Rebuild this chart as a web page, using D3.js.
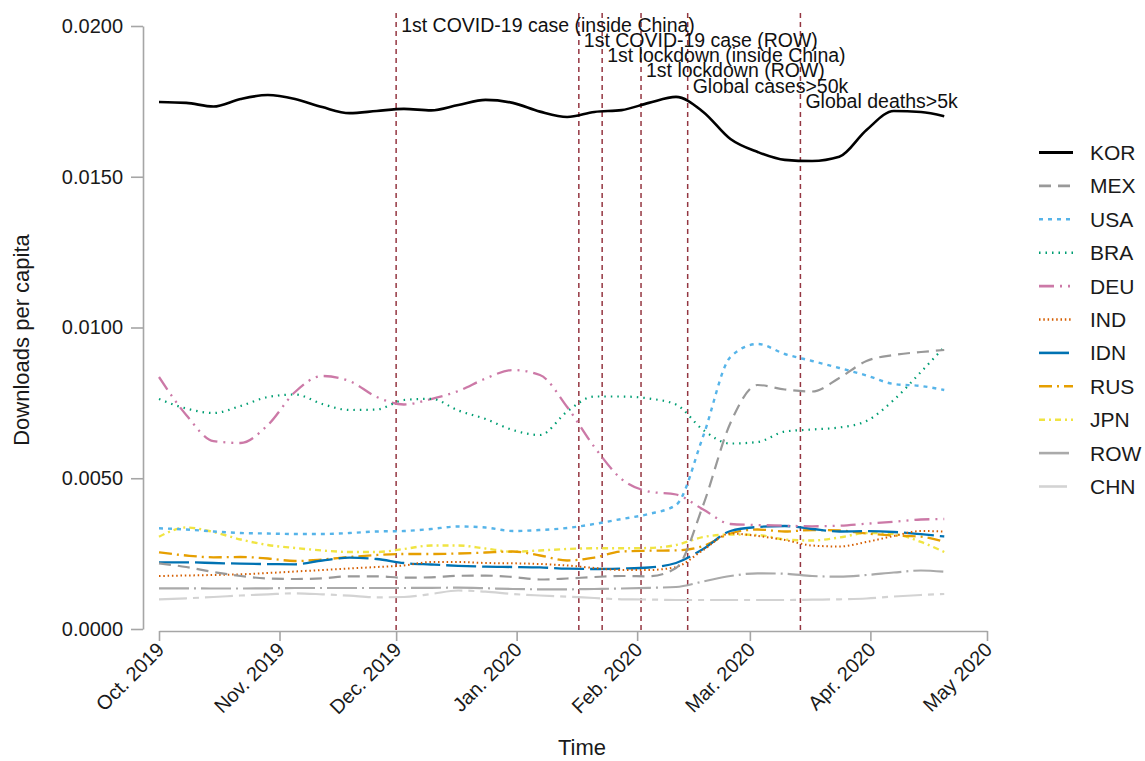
<!DOCTYPE html>
<html>
<head>
<meta charset="utf-8">
<script src="https://cdn.jsdelivr.net/npm/d3@7"></script>
<style>
  html, body { margin: 0; padding: 0; background: #fff; }
  text { font-family: "Liberation Sans", Arial, sans-serif; }
</style>
</head>
<body>
<svg id="chart" width="1145" height="761"></svg>
<script>
const dates = ["2019-10-01","2019-10-08","2019-10-15","2019-10-22","2019-10-29","2019-11-05","2019-11-12","2019-11-19","2019-11-26","2019-12-03","2019-12-10","2019-12-17","2019-12-24","2019-12-31","2020-01-07","2020-01-14","2020-01-21","2020-01-28","2020-02-04","2020-02-11","2020-02-18","2020-02-25","2020-03-03","2020-03-10","2020-03-17","2020-03-24","2020-03-31","2020-04-07","2020-04-14","2020-04-20"];

const countries = ["KOR","MEX","USA","BRA","DEU","IND","IDN","RUS","JPN","ROW","CHN"];

const KOR = [0.01748,0.01745,0.01733,0.01758,0.01771,0.01758,0.01731,0.01711,0.01718,0.01725,0.01720,0.01738,0.01755,0.01745,0.01716,0.01698,0.01715,0.01721,0.01745,0.01765,0.01715,0.01625,0.01582,0.01556,0.01552,0.01566,0.01655,0.01718,0.01715,0.01701];
const MEX = [0.002179,0.002056,0.001891,0.001758,0.001675,0.001658,0.001682,0.001748,0.001748,0.001701,0.001715,0.001764,0.001771,0.001725,0.001642,0.001675,0.001725,0.001758,0.001748,0.002023,0.004113,0.006832,0.008093,0.007943,0.007877,0.008325,0.008889,0.009088,0.009187,0.009253];
const USA = [0.003340,0.003300,0.003234,0.003184,0.003167,0.003151,0.003151,0.003184,0.003234,0.003250,0.003317,0.003400,0.003366,0.003250,0.003284,0.003350,0.003483,0.003648,0.003814,0.004113,0.006401,0.009021,0.009453,0.009121,0.008889,0.008657,0.008408,0.008126,0.008060,0.007927];
const BRA = [0.007628,0.007313,0.007164,0.007396,0.007695,0.007778,0.007463,0.007264,0.007280,0.007595,0.007635,0.007247,0.006965,0.006600,0.006434,0.007214,0.007711,0.007711,0.007645,0.007446,0.006600,0.006152,0.006202,0.006550,0.006617,0.006683,0.006899,0.007595,0.008524,0.009353];
const DEU = [0.008358,0.007098,0.006235,0.006169,0.006766,0.007861,0.008391,0.008225,0.007695,0.007446,0.007628,0.007894,0.008308,0.008590,0.008424,0.007363,0.006036,0.004975,0.004560,0.004461,0.003963,0.003483,0.003449,0.003426,0.003406,0.003426,0.003492,0.003559,0.003632,0.003648];
const IND = [0.001758,0.001774,0.001791,0.001814,0.001857,0.001907,0.001957,0.002007,0.002056,0.002106,0.002222,0.002222,0.002189,0.002179,0.002156,0.002106,0.002023,0.001957,0.001957,0.002056,0.002620,0.003167,0.003085,0.002952,0.002769,0.002736,0.002886,0.003085,0.003250,0.003234];
const IDN = [0.002212,0.002212,0.002189,0.002166,0.002153,0.002146,0.002272,0.002365,0.002322,0.002189,0.002139,0.002096,0.002066,0.002056,0.002043,0.002000,0.001990,0.002007,0.002040,0.002189,0.002653,0.003250,0.003383,0.003416,0.003317,0.003234,0.003244,0.003217,0.003144,0.003068];
const RUS = [0.002544,0.002438,0.002378,0.002388,0.002338,0.002255,0.002305,0.002388,0.002454,0.002488,0.002488,0.002504,0.002537,0.002570,0.002438,0.002272,0.002371,0.002570,0.002597,0.002607,0.002753,0.003167,0.003300,0.003234,0.003284,0.003267,0.003167,0.003101,0.003061,0.002895];
const JPN = [0.003061,0.003366,0.003217,0.002968,0.002786,0.002687,0.002604,0.002554,0.002554,0.002653,0.002769,0.002769,0.002670,0.002564,0.002604,0.002653,0.002677,0.002677,0.002687,0.002786,0.003051,0.003134,0.003118,0.002968,0.002935,0.003035,0.003184,0.003151,0.002886,0.002554];
const ROW = [0.001350,0.001350,0.001343,0.001343,0.001350,0.001360,0.001360,0.001360,0.001360,0.001360,0.001366,0.001370,0.001353,0.001327,0.001317,0.001317,0.001327,0.001343,0.001366,0.001393,0.001575,0.001758,0.001847,0.001834,0.001758,0.001735,0.001791,0.001874,0.001940,0.001900];
const CHN = [0.000985,0.001018,0.001061,0.001111,0.001151,0.001184,0.001151,0.001104,0.001051,0.001061,0.001161,0.001277,0.001237,0.001161,0.001111,0.001071,0.001028,0.000985,0.000978,0.000962,0.000962,0.000962,0.000962,0.000962,0.000972,0.000985,0.001012,0.001078,0.001128,0.001161];

const yTicks = [0, 0.005, 0.010, 0.015, 0.020];
const xTickDates = ["2019-10-01","2019-11-01","2019-12-01","2020-01-01","2020-02-01","2020-03-01","2020-04-01","2020-05-01"];
const xTickLabels = ["Oct. 2019","Nov. 2019","Dec. 2019","Jan. 2020","Feb. 2020","Mar. 2020","Apr. 2020","May 2020"];

const eventDates = ["2019-12-01","2020-01-17","2020-01-23","2020-02-02","2020-02-14","2020-03-14"];
const eventLabels = ["1st COVID-19 case (inside China)","1st COVID-19 case (ROW)","1st lockdown (inside China)","1st lockdown (ROW)","Global cases>50k","Global deaths>5k"];

const seriesValues = {KOR, MEX, USA, BRA, DEU, IND, IDN, RUS, JPN, ROW, CHN};

const styles = {
  KOR: {color: "#000000", dash: null, w: 2.6},
  MEX: {color: "#999999", dash: "12,7", w: 2.2},
  USA: {color: "#56B4E9", dash: "4,5", w: 2.4},
  BRA: {color: "#009E73", dash: "1.5,5", w: 2.2},
  DEU: {color: "#CC79A7", dash: "15,6,2,6,2,6", w: 2.3},
  IND: {color: "#D55E00", dash: "1.5,2.8", w: 2.0},
  IDN: {color: "#0072B2", dash: "30,6", w: 2.3},
  RUS: {color: "#E69F00", dash: "13,5,2,5", w: 2.3},
  JPN: {color: "#F0E442", dash: "6,4,2,4", w: 2.4},
  ROW: {color: "#AAAAAA", dash: "30,5,2,5", w: 2.2},
  CHN: {color: "#D3D3D3", dash: "28,6,6,6", w: 2.2}
};

const parse = d3.utcParse("%Y-%m-%d");
const svg = d3.select("#chart");

const x = d3.scaleUtc()
  .domain([parse("2019-10-01"), parse("2020-05-01")])
  .range([159, 987]);
const y = d3.scaleLinear().domain([0, 0.02]).range([629, 26]);

const axisColor = "#A6A6A6";

// event lines
const evG = svg.append("g");
eventDates.forEach((d, i) => {
  const xp = x(parse(d));
  evG.append("line")
    .attr("x1", xp).attr("x2", xp)
    .attr("y1", 13).attr("y2", 630)
    .attr("stroke", "#943641").attr("stroke-width", 1.5)
    .attr("stroke-dasharray", "5,4");
});

// series lines
const line = d3.line()
  .x((d, i) => x(parse(dates[i])))
  .y(d => y(d))
  .curve(d3.curveMonotoneX);

const drawOrder = ["CHN","ROW","JPN","RUS","IDN","IND","DEU","BRA","USA","MEX","KOR"];
const linesG = svg.append("g");
drawOrder.forEach(c => {
  const s = styles[c];
  linesG.append("path")
    .datum(seriesValues[c])
    .attr("d", line)
    .attr("fill", "none")
    .attr("stroke", s.color)
    .attr("stroke-width", s.w)
    .attr("stroke-dasharray", s.dash)
    .attr("stroke-linejoin", "round");
});

// event labels
eventDates.forEach((d, i) => {
  const xp = x(parse(d));
  svg.append("text")
    .attr("x", xp + 5)
    .attr("y", 25 + i * 15.2)
    .attr("dy", "0.35em")
    .attr("font-size", 19.5)
    .attr("fill", "#111")
    .text(eventLabels[i]);
});

// y axis
const yAxis = d3.axisLeft(y)
  .tickValues(yTicks)
  .tickFormat(d3.format(".4f"))
  .tickSize(12)
  .tickSizeOuter(0)
  .tickPadding(8);
const yg = svg.append("g").attr("transform", "translate(143,0)").call(yAxis);
yg.select(".domain").attr("stroke", axisColor).attr("stroke-width", 1.6);
yg.selectAll(".tick line").attr("stroke", axisColor).attr("stroke-width", 1.6);
yg.selectAll(".tick text").attr("font-size", 20).attr("fill", "#1a1a1a")
  .style("font-family", "'Liberation Sans', Arial, sans-serif");

// x axis
const xAxis = d3.axisBottom(x)
  .tickValues(xTickDates.map(parse))
  .tickFormat((d, i) => xTickLabels[i])
  .tickSize(10)
  .tickSizeOuter(0);
const xg = svg.append("g").attr("transform", "translate(0,631)").call(xAxis);
xg.select(".domain").attr("stroke", axisColor).attr("stroke-width", 1.6);
xg.selectAll(".tick line").attr("stroke", axisColor).attr("stroke-width", 1.6);
xg.selectAll(".tick text")
  .attr("font-size", 20).attr("fill", "#1a1a1a")
  .style("font-family", "'Liberation Sans', Arial, sans-serif")
  .attr("text-anchor", "end")
  .attr("x", 0).attr("y", 0)
  .attr("dx", 0)
  .attr("dy", "0.35em")
  .attr("transform", "translate(1,15) rotate(-45)");

// axis titles
svg.append("text")
  .attr("x", 582).attr("y", 755)
  .attr("text-anchor", "middle")
  .attr("font-size", 22).attr("fill", "#1a1a1a")
  .text("Time");
svg.append("text")
  .attr("transform", "translate(29,340) rotate(-90)")
  .attr("text-anchor", "middle")
  .attr("font-size", 22).attr("fill", "#1a1a1a")
  .text("Downloads per capita");

// legend
const lg = svg.append("g");
countries.forEach((c, i) => {
  const s = styles[c];
  const yy = 152.5 + i * 33.4;
  lg.append("line")
    .attr("x1", 1039).attr("x2", 1073)
    .attr("y1", yy).attr("y2", yy)
    .attr("stroke", s.color)
    .attr("stroke-width", c === "KOR" ? 3 : 2.6)
    .attr("stroke-dasharray", s.dash);
  lg.append("text")
    .attr("x", 1090).attr("y", yy)
    .attr("dy", "0.36em")
    .attr("font-size", 21).attr("fill", "#1a1a1a")
    .text(c);
});
</script>
</body>
</html>
